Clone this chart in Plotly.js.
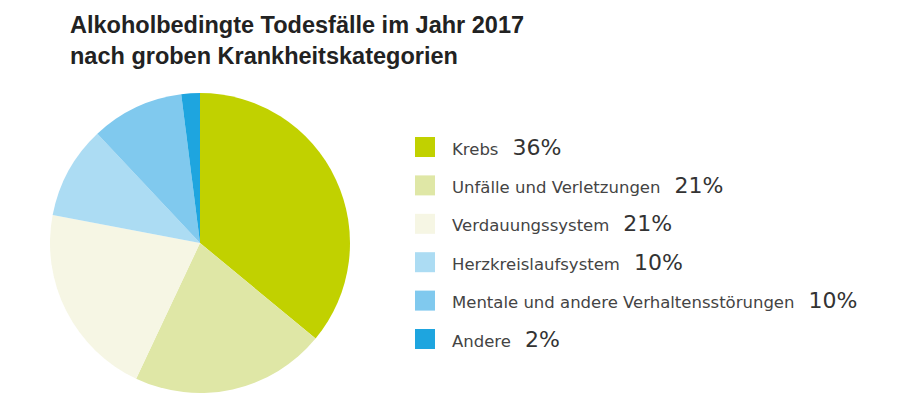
<!DOCTYPE html>
<html>
<head>
<meta charset="utf-8">
<script src="https://cdn.plot.ly/plotly-3.0.1.min.js"></script>
<style>html,body{margin:0;padding:0;background:#fff;}#chart{width:900px;height:405px;}</style>
</head>
<body>
<div id="chart"></div>
<script>
const categories = ["Krebs", "Unfälle und Verletzungen", "Verdauungssystem", "Herzkreislaufsystem", "Mentale und andere Verhaltensstörungen", "Andere"];
const shares = [36, 21, 21, 10, 10, 2];
const colors = ["#c1d100", "#dfe7a6", "#f6f6e4", "#acdcf3", "#80c9ee", "#1ea5df"];
const titleText = "Alkoholbedingte Todesfälle im Jahr 2017<br>nach groben Krankheitskategorien";

const W = 900, H = 405;
const legendTop = 147, legendStep = 38.4;

const shapes = categories.map((c, i) => ({
  type: "rect", xref: "paper", yref: "paper",
  xsizemode: "pixel", ysizemode: "pixel",
  xanchor: 425 / W, yanchor: 1 - (legendTop + i * legendStep) / H,
  x0: -10, x1: 10, y0: -10, y1: 10,
  fillcolor: colors[i], line: {width: 0}
}));

const annotations = categories.map((c, i) => ({
  xref: "paper", yref: "paper",
  x: 450 / W, y: 1 - (legendTop + i * legendStep) / H,
  xanchor: "left", yanchor: "middle", showarrow: false,
  text: c + "<span style='font-size:22px;color:#333333'>\u00A0\u00A0" + shares[i] + "%</span>",
  font: {family: "DejaVu Sans", size: 16.5, color: "#444444"}
}));

const data = [{
  type: "pie",
  labels: categories,
  values: shares,
  sort: false,
  direction: "clockwise",
  rotation: 0,
  marker: {colors: colors, line: {width: 0}},
  textinfo: "none",
  hoverinfo: "label+percent",
  showlegend: false,
  domain: {x: [50 / W, 350 / W], y: [1 - 393 / H, 1 - 93 / H]}
}];

const layout = {
  width: W, height: H,
  margin: {l: 0, r: 0, t: 0, b: 0},
  paper_bgcolor: "#ffffff",
  plot_bgcolor: "#ffffff",
  showlegend: false,
  title: {
    text: titleText,
    x: 70 / W, xanchor: "left", xref: "paper",
    y: 1 - 33 / H, yanchor: "top", yref: "container",
    font: {family: "Liberation Sans, Arial, sans-serif", size: 23.5, color: "#222222", weight: "bold"}
  },
  shapes: shapes,
  annotations: annotations
};

Plotly.newPlot("chart", data, layout, {displayModeBar: false, staticPlot: true});
</script>
</body>
</html>
